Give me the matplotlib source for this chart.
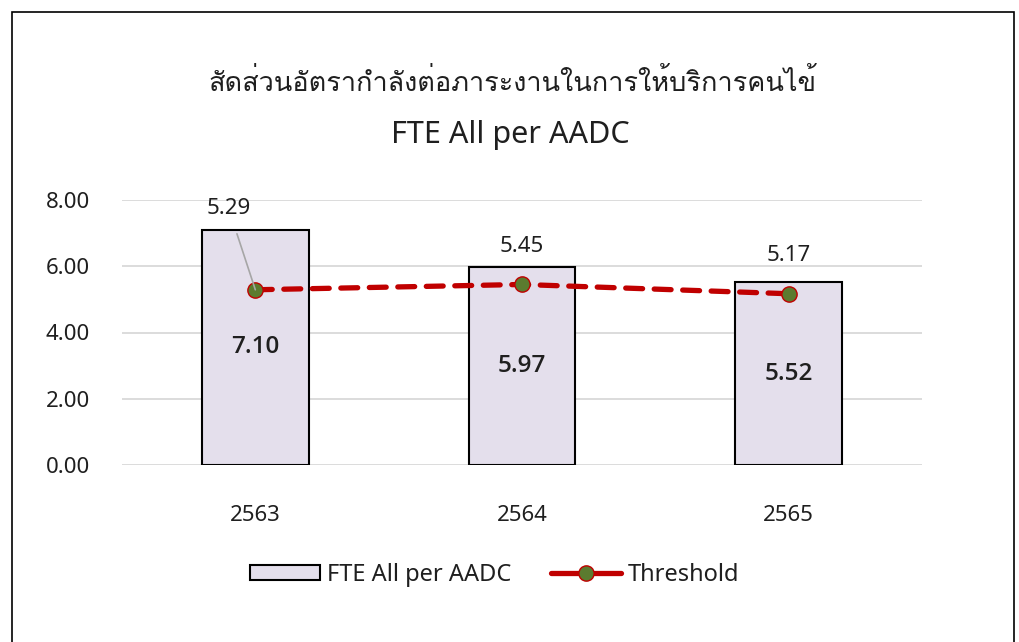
import matplotlib
matplotlib.use("Agg")
import matplotlib.pyplot as plt
from matplotlib import font_manager
from matplotlib.ft2font import FT2Font
from matplotlib.patches import Rectangle
from matplotlib.lines import Line2D
import numpy as np

# data
years = ["2563", "2564", "2565"]
fte_values = [7.10, 5.97, 5.52]
threshold = [5.29, 5.45, 5.17]
title_th = "สัดส่วนอัตรากำลังต่อภาระงานในการให้บริการคนไข้"
title_en = "FTE All per AADC"

# look for any installed font with Thai glyphs
thai_fonts = []
for f in font_manager.fontManager.ttflist:
    try:
        if 0x0E2A in FT2Font(f.fname).get_charmap():
            if f.name not in thai_fonts:
                thai_fonts.append(f.name)
    except Exception:
        pass

families = ["Noto Sans"] + thai_fonts[:2] + ["DejaVu Sans"]
plt.rcParams["font.family"] = families
txt = "#1F1F1F"

fig = plt.figure(figsize=(10.2, 6.42), dpi=100)
ax = fig.add_axes([122 / 1020, 1 - 465 / 642, 800 / 1020, 265 / 642])

x = np.arange(len(years))
bars = ax.bar(x, fte_values, width=0.4, color="#E4DFEC", edgecolor="black", linewidth=1.5,
              label="FTE All per AADC", zorder=3)
ax.plot(x, threshold, color="#C00000", linestyle=(0, (3.2, 2.2)), linewidth=3.8,
        dash_capstyle="round",
        marker="o", markersize=11, markerfacecolor="#5B7B2F", markeredgecolor="#C00000",
        markeredgewidth=1.0, zorder=4)

# legend handle drawn as solid line + marker, like the original
line_handle = Line2D([], [], color="#C00000", linewidth=3.8, solid_capstyle="round",
                     marker="o", markersize=11, markerfacecolor="#5B7B2F",
                     markeredgecolor="#C00000", markeredgewidth=1.0, label="Threshold")

# values inside bars
for i, v in enumerate(fte_values):
    ax.text(x[i], v / 2, f"{v:.2f}", ha="center", va="center", fontsize=17.5,
            fontweight="semibold", family=["Open Sans", "DejaVu Sans"], color=txt, zorder=5)

# threshold labels
for i, v in enumerate(threshold):
    if i == 0:
        ax.annotate(f"{v:.2f}", xy=(x[i], v), xytext=(x[i] - 0.1, v + 2.45),
                    ha="center", va="center", fontsize=16, color=txt,
                    arrowprops=dict(arrowstyle="-", color="#A6A6A6", lw=1.2,
                                    shrinkA=9, shrinkB=0), zorder=6)
    else:
        ax.text(x[i], v + 1.15, f"{v:.2f}", ha="center", va="center",
                fontsize=16, color=txt, zorder=5)

ax.set_xlim(-0.5, 2.5)
ax.set_ylim(0, 8)
ax.set_yticks(np.arange(0, 9, 2))
ax.set_yticklabels([f"{t:.2f}" for t in np.arange(0, 9, 2)])
ax.set_xticks(x)
ax.set_xticklabels(years)
ax.tick_params(axis="both", length=0, labelsize=16, labelcolor=txt)
ax.tick_params(axis="x", pad=29)
ax.tick_params(axis="y", pad=23)
ax.grid(axis="y", color="#D9D9D9", linewidth=1.3, zorder=0)
for s in ax.spines.values():
    s.set_visible(False)

fig.text(0.502, 1 - 84 / 642, title_th, ha="center", va="center", fontsize=19.5, color=txt)
fig.text(0.5, 1 - 135 / 642, title_en, ha="center", va="center", fontsize=22, color=txt)

fig.legend(handles=[bars, line_handle], loc="center", bbox_to_anchor=(0.485, 1 - 575 / 642),
           ncol=2, frameon=False, fontsize=17, handlelength=2.95, handleheight=0.6,
           columnspacing=1.7, handletextpad=0.3, labelcolor=txt)

# outer frame
fig.patches.append(Rectangle((12 / 1020, -0.05), 1002 / 1020, 1 - 12 / 642 + 0.05,
                             transform=fig.transFigure, fill=False, edgecolor="black",
                             linewidth=1.2))

fig.savefig("out.png", dpi=100)
